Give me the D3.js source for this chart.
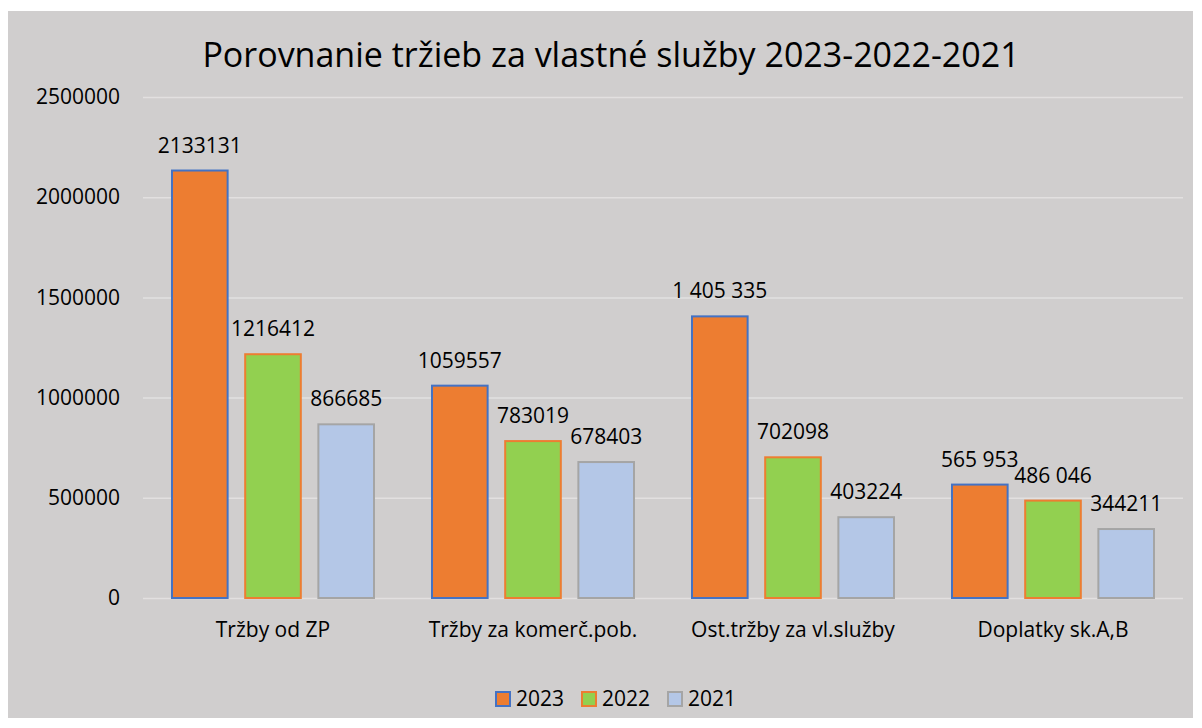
<!DOCTYPE html>
<html>
<head>
<meta charset="utf-8">
<script src="https://cdn.jsdelivr.net/npm/d3@7"></script>
<style>
  body { margin: 0; background: #fff; }
  text { font-family: "Open Sans", sans-serif; fill: #000; }
</style>
</head>
<body>
<div id="chart"></div>
<script>
// data
var categories = ["Tržby od ZP", "Tržby za komerč.pob.", "Ost.tržby za vl.služby", "Doplatky sk.A,B"];
var years = ["2023", "2022", "2021"];
var values2023 = [2133131, 1059557, 1405335, 565953];
var values2022 = [1216412, 783019, 702098, 486046];
var values2021 = [866685, 678403, 403224, 344211];
var labels2023 = ["2133131", "1059557", "1 405 335", "565 953"];
var labels2022 = ["1216412", "783019", "702098", "486 046"];
var labels2021 = ["866685", "678403", "403224", "344211"];
var yTicks = [0, 500000, 1000000, 1500000, 2000000, 2500000];

var fills = ["#ED7D31", "#92D050", "#B4C7E7"];
var strokes = ["#4472C4", "#ED7D31", "#A5A5A5"];

var width = 1202, height = 728;
var margin = {top: 97, right: 19, bottom: 130, left: 143};

var svg = d3.select("#chart").append("svg")
    .attr("width", width)
    .attr("height", height);

// chart background
svg.append("rect")
    .attr("x", 8).attr("y", 11)
    .attr("width", 1185).attr("height", 707)
    .attr("fill", "#D0CECE");

var series = [
  {year: years[0], values: values2023, labels: labels2023},
  {year: years[1], values: values2022, labels: labels2022},
  {year: years[2], values: values2021, labels: labels2021}
];

var x0 = d3.scaleBand()
    .domain(categories)
    .range([margin.left, width - margin.right])
    .paddingInner(0).paddingOuter(0);

var x1 = d3.scaleBand()
    .domain(years)
    .range([29, x0.bandwidth() - 29])
    .paddingInner(0.24);

var y = d3.scaleLinear()
    .domain([0, 2500000])
    .range([height - margin.bottom, margin.top]);

// gridlines
var grid = svg.append("g")
    .attr("transform", "translate(" + margin.left + ",0)")
    .call(d3.axisLeft(y).tickValues(yTicks).tickSize(-(width - margin.left - margin.right)).tickFormat(""));
grid.select(".domain").remove();
grid.selectAll("line").attr("stroke", "#E2E0E0").attr("stroke-width", 1.5);

// y labels
var yAxis = svg.append("g")
    .attr("transform", "translate(120,0)")
    .call(d3.axisLeft(y).tickValues(yTicks).tickSize(0).tickPadding(0).tickFormat(d3.format("d")));
yAxis.select(".domain").remove();
yAxis.selectAll("text").style("font-size", "21px").attr("fill", "#000").attr("font-family", "Open Sans");

// bars
var groups = svg.append("g").selectAll("g")
    .data(series)
    .enter().append("g");

groups.each(function(s, si) {
  var g = d3.select(this);
  g.selectAll("rect")
    .data(s.values)
    .enter().append("rect")
      .attr("x", function(d, i) { return x0(categories[i]) + x1(s.year); })
      .attr("y", function(d) { return y(d); })
      .attr("width", x1.bandwidth())
      .attr("height", function(d) { return y(0) - y(d); })
      .attr("fill", fills[si])
      .attr("stroke", strokes[si])
      .attr("stroke-width", 2);

  g.selectAll("text")
    .data(s.values)
    .enter().append("text")
      .attr("x", function(d, i) { return x0(categories[i]) + x1(s.year) + x1.bandwidth() / 2; })
      .attr("y", function(d) { return y(d) - 18; })
      .attr("text-anchor", "middle")
      .style("font-size", "21px")
      .text(function(d, i) { return s.labels[i]; });
});

// category labels
svg.append("g").selectAll("text")
    .data(categories)
    .enter().append("text")
      .attr("x", function(d) { return x0(d) + x0.bandwidth() / 2; })
      .attr("y", 637)
      .attr("text-anchor", "middle")
      .style("font-size", "21px")
      .text(function(d) { return d; });

// title
svg.append("text")
    .attr("x", 611)
    .attr("y", 67)
    .attr("text-anchor", "middle")
    .style("font-size", "34px")
    .text("Porovnanie tržieb za vlastné služby 2023-2022-2021");

// legend
var legendX = [496, 582, 668];
var legend = svg.append("g").selectAll("g")
    .data(years)
    .enter().append("g")
      .attr("transform", function(d, i) { return "translate(" + legendX[i] + ",692)"; });
legend.append("rect")
    .attr("width", 14).attr("height", 14)
    .attr("fill", function(d, i) { return fills[i]; })
    .attr("stroke", function(d, i) { return strokes[i]; })
    .attr("stroke-width", 2);
legend.append("text")
    .attr("x", 20)
    .attr("y", 14)
    .style("font-size", "21px")
    .text(function(d) { return d; });
</script>
</body>
</html>
